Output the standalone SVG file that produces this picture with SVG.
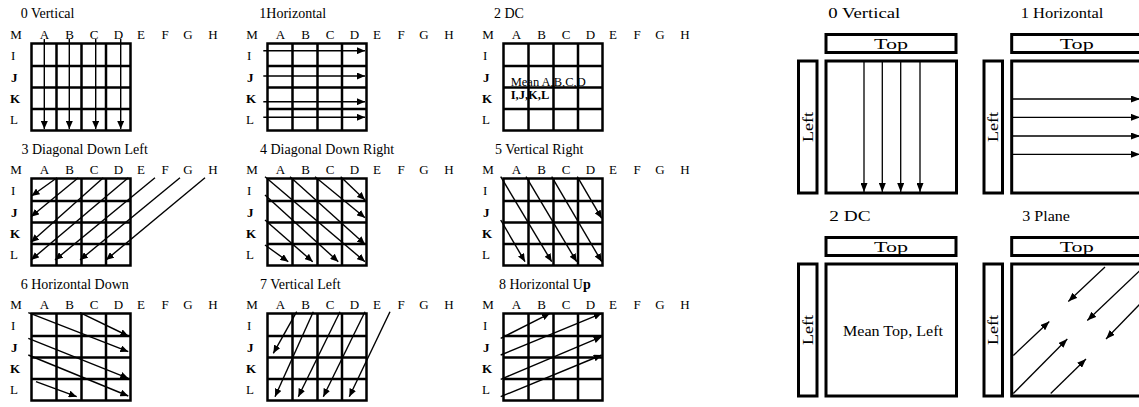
<svg xmlns="http://www.w3.org/2000/svg" width="1139" height="407" viewBox="0 0 1139 407">
<style>
text{font-family:"Liberation Serif","Times New Roman",serif;fill:#000}
.t{font-size:14px}
.h{font-size:13px;text-anchor:middle}
.r{font-size:13px}
.m{font-size:12.5px}
.b{font-weight:bold}
.g{fill:none;stroke:#000;stroke-width:2.5}
.a{fill:none;stroke:#000;stroke-width:1.4;marker-end:url(#ah)}
.bx{fill:#fff;stroke:#000;stroke-width:3}
.ra{fill:none;stroke:#000;stroke-width:1.3;marker-end:url(#ahl)}
.bt{font-size:15px;text-anchor:middle}
</style>
<defs>
<marker id="ah" markerUnits="userSpaceOnUse" markerWidth="8" markerHeight="7" refX="8" refY="3.5" orient="auto"><path d="M0,0 L8,3.5 L0,7 z" fill="#000"/></marker>
<marker id="ahl" markerUnits="userSpaceOnUse" markerWidth="9" markerHeight="7" refX="9" refY="3.5" orient="auto"><path d="M0,0 L9,3.5 L0,7 z" fill="#000"/></marker>
<g id="grid">
<rect class="g" x="31.5" y="43.5" width="99" height="87"/>
<path class="g" d="M56.5,43.5V130.5M81.5,43.5V130.5M106,43.5V130.5M31.5,66H130.5M31.5,87.5H130.5M31.5,109H130.5"/>
</g>
<g id="lbl">
<text class="h" x="16" y="39">M</text><text class="h" x="44.5" y="39">A</text><text class="h" x="69.5" y="39">B</text><text class="h" x="94" y="39">C</text><text class="h" x="118.5" y="39">D</text><text class="h" x="141" y="39">E</text><text class="h" x="165" y="39">F</text><text class="h" x="188" y="39">G</text><text class="h" x="213" y="39">H</text>
<text class="r" x="11" y="60">I</text><text class="r b" x="11" y="82">J</text><text class="r b" x="10" y="103">K</text><text class="r" x="10" y="124">L</text>
</g>
</defs>

<g id="p0">
<text class="t" x="20.7" y="18">0 Vertical</text>
<use href="#lbl"/><use href="#grid"/>
<g id="p0-arrows">
<path class="a" d="M44.3,39V129"/><path class="a" d="M69.3,39V129"/><path class="a" d="M95.7,39V129"/><path class="a" d="M120.7,39V129"/>
</g>
</g>

<g id="p1" transform="translate(236,0)">
<text class="t" x="23.3" y="18">1Horizontal</text>
<use href="#lbl"/><use href="#grid"/>
<g id="p1-arrows">
<path class="a" d="M27.3,50.7H129"/><path class="a" d="M27.3,76H129"/><path class="a" d="M27.3,101.7H129"/><path class="a" d="M27.3,117.3H129"/>
</g>
</g>

<g id="p2" transform="translate(472,0)">
<text class="t" x="22" y="18">2 DC</text>
<use href="#lbl"/><use href="#grid"/>
<text class="m" x="38.7" y="85.5">Mean A,B,C,D</text>
<text class="m b" x="38.7" y="99">I,J,K,L</text>
</g>

<g id="p3" transform="translate(0,135)">
<text class="t" x="21.5" y="18.5">3 Diagonal Down Left</text>
<use href="#lbl"/><use href="#grid"/>
<g id="p3-arrows">
<path class="a" d="M57,42.7L31.5,61"/>
<path class="a" d="M78.3,42.7L31,81.7"/>
<path class="a" d="M103.3,42.7L31,107.3"/>
<path class="a" d="M128.3,42.7L31,125"/>
<path class="a" d="M155,42.7L55,125"/>
<path class="a" d="M180,42.7L80,125"/>
<path class="a" d="M205,42.7L106,125"/>
</g>
</g>

<g id="p4" transform="translate(236,135)">
<text class="t" x="24" y="18.5">4 Diagonal Down Right</text>
<use href="#lbl"/><use href="#grid"/>
<g id="p4-arrows">
<path class="a" d="M104.7,41.7L129,65"/>
<path class="a" d="M79,41.7L129,82.7"/>
<path class="a" d="M54,41.7L129,109.3"/>
<path class="a" d="M29,41.7L129,126.7"/>
<path class="a" d="M29,60L102.3,126.7"/>
<path class="a" d="M29,85L76.7,126.7"/>
<path class="a" d="M29,110L52.3,126.7"/>
</g>
</g>

<g id="p5" transform="translate(472,135)">
<text class="t" x="23" y="18.5">5 Vertical Right</text>
<use href="#lbl"/><use href="#grid"/>
<g id="p5-arrows">
<path class="a" d="M28.7,41.7L79.7,126.7"/>
<path class="a" d="M54,41.7L104.7,126.7"/>
<path class="a" d="M79.7,41.7L129.7,126.7"/>
<path class="a" d="M105.3,41.7L129.7,83.3"/>
<path class="a" d="M28.7,85L53,126.7"/>
</g>
</g>

<g id="p6" transform="translate(0,270)">
<text class="t" x="20.7" y="18.5">6 Horizontal Down</text>
<use href="#lbl"/><use href="#grid"/>
<g id="p6-arrows">
<path class="a" d="M28.3,42.7L128.3,81.7"/>
<path class="a" d="M80,42.7L128.3,66"/>
<path class="a" d="M28.3,68.3L128.3,108.3"/>
<path class="a" d="M28.3,85L128.3,126"/>
<path class="a" d="M36,111.7L76.7,126.7"/>
</g>
</g>

<g id="p7" transform="translate(236,270)">
<text class="t" x="24" y="18.5">7 Vertical Left</text>
<use href="#lbl"/><use href="#grid"/>
<g id="p7-arrows">
<path class="a" d="M60.7,41.7L37.3,83.3"/>
<path class="a" d="M77.3,41.7L39,126.7"/>
<path class="a" d="M104,41.7L62.3,126.7"/>
<path class="a" d="M129,41.7L87.3,126.7"/>
<path class="a" d="M154,41.7L113.3,126.7"/>
</g>
</g>

<g id="p8" transform="translate(472,270)">
<text class="t" x="27" y="18.5">8 Horizontal U<tspan class="b">p</tspan></text>
<use href="#lbl"/><use href="#grid"/>
<g id="p8-arrows">
<path class="a" d="M28.7,68.3L78,43.3"/>
<path class="a" d="M28.7,85L129.7,43.3"/>
<path class="a" d="M28.7,109.3L129.7,66.7"/>
<path class="a" d="M28.7,126.7L129.7,85"/>
</g>
</g>

<g id="r0">
<text class="t" x="828.3" y="18" textLength="72" lengthAdjust="spacingAndGlyphs">0 Vertical</text>
<rect class="bx" x="826" y="34.5" width="130" height="18"/>
<text class="bt" x="891" y="49" textLength="34" lengthAdjust="spacingAndGlyphs">Top</text>
<rect class="bx" x="798.5" y="61" width="18.5" height="132"/>
<text class="bt" transform="translate(812.5,127) rotate(-90)" x="0" y="0" textLength="30" lengthAdjust="spacingAndGlyphs">Left</text>
<rect class="bx" x="826" y="61" width="130.5" height="132"/>
<g id="r0-arrows">
<path class="ra" d="M864,61V192"/><path class="ra" d="M882.3,61V192"/><path class="ra" d="M900.7,61V192"/><path class="ra" d="M920,61V192"/>
</g>
</g>

<g id="r1">
<text class="t" x="1020.7" y="18" textLength="82.7" lengthAdjust="spacingAndGlyphs">1 Horizontal</text>
<rect class="bx" x="1011.7" y="34.5" width="130" height="18"/>
<text class="bt" x="1076.7" y="49" textLength="34" lengthAdjust="spacingAndGlyphs">Top</text>
<rect class="bx" x="984" y="61" width="18.5" height="132"/>
<text class="bt" transform="translate(998,127) rotate(-90)" x="0" y="0" textLength="30" lengthAdjust="spacingAndGlyphs">Left</text>
<rect class="bx" x="1011.7" y="61" width="130" height="132"/>
<g id="r1-arrows">
<path class="ra" d="M1012,99H1140"/><path class="ra" d="M1012,117.3H1140"/><path class="ra" d="M1012,136H1140"/><path class="ra" d="M1012,154.3H1140"/>
</g>
</g>

<g id="r2">
<text class="t" x="829.3" y="221" textLength="41.3" lengthAdjust="spacingAndGlyphs">2 DC</text>
<rect class="bx" x="826" y="237.5" width="130" height="18"/>
<text class="bt" x="891" y="252" textLength="34" lengthAdjust="spacingAndGlyphs">Top</text>
<rect class="bx" x="798.5" y="264" width="18.5" height="132"/>
<text class="bt" transform="translate(812.5,330) rotate(-90)" x="0" y="0" textLength="30" lengthAdjust="spacingAndGlyphs">Left</text>
<rect class="bx" x="826" y="264" width="130.5" height="132"/>
<text class="bt" x="893" y="336" textLength="100" lengthAdjust="spacingAndGlyphs">Mean Top, Left</text>
</g>

<g id="r3">
<text class="t" x="1022.3" y="221" textLength="47.7" lengthAdjust="spacingAndGlyphs">3 Plane</text>
<rect class="bx" x="1011.7" y="237.5" width="130" height="18"/>
<text class="bt" x="1076.7" y="252" textLength="34" lengthAdjust="spacingAndGlyphs">Top</text>
<rect class="bx" x="984" y="264" width="18.5" height="132"/>
<text class="bt" transform="translate(998,330) rotate(-90)" x="0" y="0" textLength="30" lengthAdjust="spacingAndGlyphs">Left</text>
<rect class="bx" x="1011.7" y="264" width="130" height="132"/>
<g id="r3-arrows">
<path class="ra" d="M1105,267L1068.3,301.5"/>
<path class="ra" d="M1140,270.5L1087.3,320.5"/>
<path class="ra" d="M1140,304L1106,339"/>
<path class="ra" d="M1013.3,355.5L1049.3,321.5"/>
<path class="ra" d="M1013.3,393.5L1067.3,339"/>
<path class="ra" d="M1050.7,393.5L1086,359"/>
</g>
</g>
</svg>
